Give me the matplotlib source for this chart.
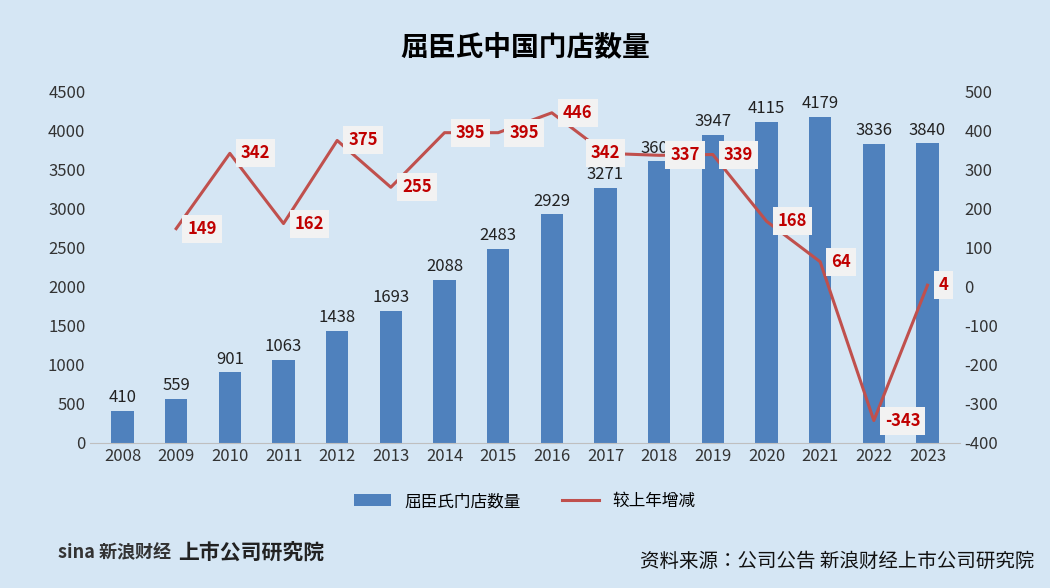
import matplotlib.pyplot as plt

plt.rcParams["font.family"] = "sans-serif"
plt.rcParams["font.sans-serif"] = ["Noto Sans CJK SC", "Noto Sans CJK JP", "DejaVu Sans"]
plt.rcParams["axes.unicode_minus"] = False

years = ["2008", "2009", "2010", "2011", "2012", "2013", "2014", "2015",
         "2016", "2017", "2018", "2019", "2020", "2021", "2022", "2023"]
stores = [410, 559, 901, 1063, 1438, 1693, 2088, 2483, 2929, 3271, 3608, 3947, 4115, 4179, 3836, 3840]
change_years = years[1:]
change = [149, 342, 162, 375, 255, 395, 395, 446, 342, 337, 339, 168, 64, -343, 4]

bg = "#D5E6F4"
fig = plt.figure(figsize=(10.5, 5.88), dpi=100, facecolor=bg)
ax = fig.add_axes([0.086, 0.247, 0.828, 0.597], facecolor=bg)
x = list(range(len(years)))
bars = ax.bar(x, stores, width=0.42, color="#4F81BD", label="屈臣氏门店数量")
ax.set_ylim(0, 4500)
ax.set_yticks(range(0, 4501, 500))
ax.set_xlim(-0.6, len(years) - 0.4)
ax.set_xticks(x)
ax.set_xticklabels(years)
for s in ax.spines.values():
    s.set_visible(False)
ax.spines["bottom"].set_visible(True)
ax.spines["bottom"].set_color("#BFBFBF")
ax.tick_params(length=0, labelsize=12, colors="#333333")

ax2 = ax.twinx()
cx = x[1:]
line, = ax2.plot(cx, change, color="#C0504D", lw=2.2, label="较上年增减")
for xi, v in zip(cx, change):
    dx, ha = (8, "left")
    if xi == 9:
        dx, ha = (0, "center")
    ax2.annotate(str(v), (xi, v), xytext=(dx, 0), textcoords="offset points",
                 ha=ha, va="center", fontsize=12, fontweight="bold", color="#C00000", zorder=5,
                 bbox=dict(boxstyle="square,pad=0.3", fc="#F2F2F2", ec="none"))
ax2.set_ylim(-400, 500)
ax2.set_yticks(range(-400, 501, 100))
for s in ax2.spines.values():
    s.set_visible(False)
ax2.tick_params(length=0, labelsize=12, colors="#333333")
# bar value labels drawn on top
for xi, v in zip(x, stores):
    ax2.text(xi, (v + 60) / 4500 * 900 - 400, str(v), ha="center", va="bottom",
             fontsize=12, color="#222222", zorder=1)

fig.text(0.5, 0.92, "屈臣氏中国门店数量", ha="center", va="center", fontsize=20, fontweight="bold")
fig.legend([bars, line], ["屈臣氏门店数量", "较上年增减"], loc="center", bbox_to_anchor=(0.5, 0.147),
           ncol=2, frameon=False, fontsize=12, handlelength=2.2, columnspacing=2.5)
fig.text(0.055, 0.06, "sina 新浪财经", ha="left", va="center", fontsize=13, fontweight="bold", color="#333333")
fig.text(0.17, 0.06, "上市公司研究院", ha="left", va="center", fontsize=15, fontweight="bold", style="italic", color="#222222")
fig.text(0.985, 0.045, "资料来源：公司公告 新浪财经上市公司研究院", ha="right", va="center", fontsize=14, color="#111111")

fig.savefig("out.png", dpi=100, facecolor=bg)
